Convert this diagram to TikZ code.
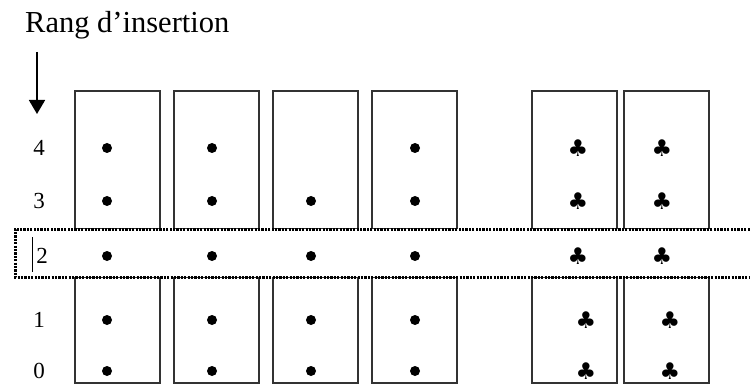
\documentclass[tikz,border=0pt]{standalone}
\usepackage{fontspec}
\setmainfont{Liberation Serif}
\newfontfamily\symfont{DejaVu Sans}
\usetikzlibrary{arrows.meta}
\tikzset{
  card/.style={draw=black!80, line width=1.6pt, minimum width=85pt, inner sep=0pt, outer sep=0pt},
  upcard/.style={card, minimum height=138pt, anchor=north west},
  lowcard/.style={card, minimum height=106pt, anchor=north west},
  pip/.style={circle, fill=black, inner sep=0pt, minimum size=10pt},
  club/.style={inner sep=0pt, font=\symfont\fontsize{23}{23}\selectfont},
  rank/.style={inner sep=0pt, font=\fontsize{23}{23}\selectfont},
  band/.style={draw=black, line width=3pt, dash pattern=on 2.2pt off 1.2pt},
}
\begin{document}
\begin{tikzpicture}[x=1pt,y=-1pt]
\useasboundingbox (0,0) rectangle (750,385);
\fill[white] (0,0) rectangle (750,385);
% title and arrow
\node[inner sep=0pt, anchor=base west, font=\fontsize{30.5}{30.5}\selectfont] (title) at (25,33) {Rang d’insertion};
\coordinate (arrS) at (37,52);
\coordinate (arrE) at (37,114);
\draw[line width=1.8pt, -{Triangle[width=16pt,length=14pt]}] (arrS) -- (arrE);
% cards
\foreach \n/\x in {1/75,2/174,3/273,4/372,5/532,6/624}{
  \node[upcard] (u\n) at (\x,91) {};
  \node[lowcard] (l\n) at (\x,277) {};
}
% rank labels
\node[rank] (r4) at (39,148) {4};
\node[rank] (r3) at (39,201) {3};
\node[rank] (r1) at (39,320) {1};
\node[rank] (r0) at (39,371) {0};
% pips
\foreach \x in {107,212,415}{\node[pip] at (\x,148) {};}
\foreach \x in {107,212,311,415}{
  \node[pip] at (\x,201) {};
  \node[pip] at (\x,320) {};
  \node[pip] at (\x,371) {};
}
% clubs
\foreach \y in {148,201}{
  \node[club] at (578,\y) {♣};
  \node[club] at (662,\y) {♣};
}
\foreach \y in {320,371}{
  \node[club] at (586,\y) {♣};
  \node[club] at (670,\y) {♣};
}
% insertion band
\fill[white] (15,229) rectangle (760,277);
\draw[band] (760,229) -- (15,229) -- (15,277) -- (760,277);
\draw[line width=1pt] (32,237) -- (32,272);
\node[rank] (r2) at (42,256) {2};
\foreach \x in {107,212,311,415}{\node[pip] at (\x,256) {};}
\node[club] at (578,256) {♣};
\node[club] at (662,256) {♣};
\end{tikzpicture}
\end{document}
